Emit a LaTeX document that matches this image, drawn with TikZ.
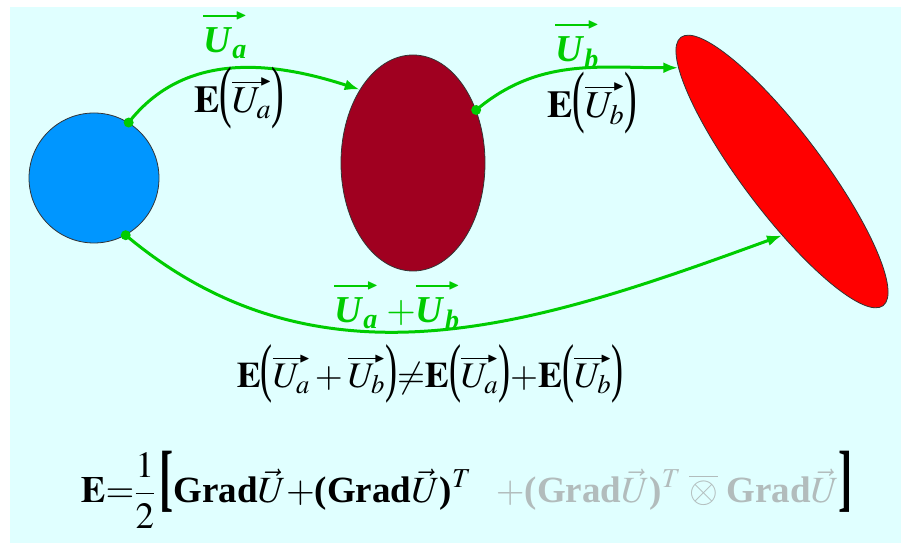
\documentclass[tikz,border=0pt]{standalone}
\usepackage{amsmath,amssymb}
\usepackage{mathptmx}
\usepackage[no-math]{fontspec}
\setmainfont{Liberation Serif}
\usepackage{xcolor}
\usetikzlibrary{arrows.meta}
\usetikzlibrary{positioning, shapes.geometric}

\definecolor{paleCyan}{RGB}{224,255,255}
\definecolor{pathGreen}{RGB}{0,204,0}
\definecolor{ballBlue}{RGB}{0,150,255}
\definecolor{ballMaroon}{RGB}{160,0,32}
\definecolor{fadeGray}{RGB}{178,188,188}

% thin arrow laid over a symbol, #1 = gap
\newcommand{\arrowtop}[2]{\vbox{\offinterlineskip\ialign{##\cr
    \leaders\hrule height .265em depth -.235em\hfill\kern-.1em$\vcenter{\hbox{\scalebox{.38}{$\blacktriangleright$}}}$\cr
    \noalign{\kern#1}
    \hfil$#2$\hfil\cr}}}
\newcommand{\gU}[1]{\arrowtop{.07em}{\textbf{\textit{U}}_{\textbf{\textit{#1}}}}}
\newcommand{\bU}[1]{\arrowtop{-.09em}{U_{#1}}}
\newcommand{\lp}{\mathopen{\raisebox{-.05em}{\scalebox{1}[1.8]{(}}}}
\newcommand{\rp}{\mathclose{\raisebox{-.05em}{\scalebox{1}[1.8]{)}}}}
\newcommand{\lb}{\mathopen{\scalebox{1.15}[2]{\textbf{[}}}}
\newcommand{\rb}{\mathclose{\scalebox{1.15}[2]{\textbf{]}}}}
\newcommand{\grad}{\textbf{Grad}\vec{U}}

\begin{document}
\begin{tikzpicture}[x=1pt,y=1pt,
    ball/.style={ellipse, draw=black!80, line width=0.8pt, inner sep=0pt},
    flow/.style={pathGreen, line width=3pt, -{Latex[length=15pt,width=11pt]}},
    knot/.style={circle, fill=pathGreen, inner sep=0pt, minimum size=10pt},
    tag/.style={text=pathGreen, anchor=base, inner sep=0pt, font=\fontsize{38}{44}\selectfont},
    eqn/.style={anchor=base, inner sep=0pt, font=\fontsize{38}{44}\selectfont}]
    \useasboundingbox (0,0) rectangle (906,543);
    \fill[paleCyan] (10,0) rectangle (901,536);

    \node[ball, fill=ballBlue, minimum width=130pt, minimum height=130pt] (blueball) at (94,365) {};
    \node[ball, fill=ballMaroon, minimum width=144pt, minimum height=216pt] (darkball) at (413,380) {};
    \node[ball, fill=red, minimum width=336pt, minimum height=80pt, rotate=-53] (redball) at (782,371.5) {};

    \draw[flow] (blueball.58) to[out=52,in=162] (darkball.126); % first step
    \draw[flow] (darkball.40) to[out=40,in=180] (redball.188); % second step
    \draw[flow] (blueball.-61) to[out=-40,in=200] (redball.-37); % direct
    \node[knot] (knotA) at (blueball.58) {};
    \node[knot] (knotB) at (darkball.40) {};
    \node[knot] (knotC) at (blueball.-61) {};

    \node[tag] (labUa) at (225,490) {$\gU{a}$};
    \node[eqn] (labEUa) at (239,430) {$\mathbf{E}\lp\bU{a}\rp$};
    \node[tag] (labUb) at (577,481) {$\gU{b}$};
    \node[eqn] (labEUb) at (592,425) {$\mathbf{E}\lp\bU{b}\rp$};
    \node[tag] (labsum) at (397,220) {$\gU{a}\;{+}\gU{b}$};
    \node[eqn, font=\fontsize{36}{42}\selectfont] (ineq) at (430,155)
        {$\mathbf{E}\lp\bU{a}+\bU{b}\rp{\neq}\mathbf{E}\lp\bU{a}\rp{+}\mathbf{E}\lp\bU{b}\rp$};
    \node[eqn, font=\fontsize{37}{43}\selectfont] (strain) at (467,40)
        {$\mathbf{E}{=}\dfrac{1}{2}\,\lb\grad{+}\textbf{(}\grad\textbf{)}^{T}\;\;\;{\color{fadeGray}+\textbf{(}\grad\textbf{)}^{T}\;\overline{\otimes}\;\grad}\rb$};
\end{tikzpicture}
\end{document}
